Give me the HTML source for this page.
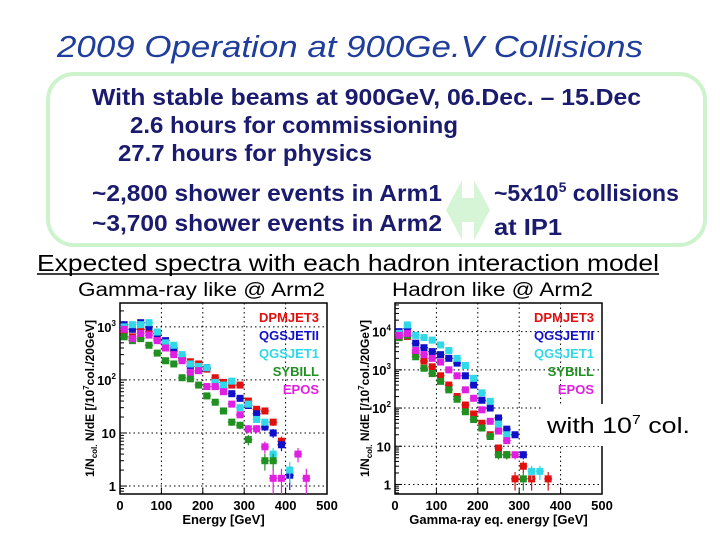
<!DOCTYPE html>
<html><head><meta charset="utf-8"><style>
html,body{margin:0;padding:0;background:#fff;}
svg{display:block;}
.h{font-family:"Liberation Sans",sans-serif;font-weight:bold;fill:#1a1a6e;}
.ax{font-family:"Liberation Sans",sans-serif;font-weight:bold;fill:#000;}
</style></head><body>
<svg id="s" width="720" height="540" viewBox="0 0 720 540" xmlns="http://www.w3.org/2000/svg">
<text x="57" y="57" textLength="586" lengthAdjust="spacingAndGlyphs" font-family="Liberation Sans,sans-serif" font-style="italic" font-size="31" fill="#1f3d9a">2009 Operation at 900Ge.V Collisions</text>
<rect x="48" y="74" width="657" height="171" rx="26" fill="none" stroke="#cdf3cd" stroke-width="4"/>
<text class="h" x="92" y="105" font-size="23" textLength="549" lengthAdjust="spacingAndGlyphs">With stable beams at 900GeV, 06.Dec. – 15.Dec</text>
<text class="h" x="130" y="133" font-size="23" textLength="328" lengthAdjust="spacingAndGlyphs">2.6 hours for commissioning</text>
<text class="h" x="118" y="161" font-size="23" textLength="254" lengthAdjust="spacingAndGlyphs">27.7 hours for physics</text>
<text class="h" x="92" y="201" font-size="23" textLength="350" lengthAdjust="spacingAndGlyphs">~2,800 shower events in Arm1</text>
<text class="h" x="92" y="231" font-size="23" textLength="350" lengthAdjust="spacingAndGlyphs">~3,700 shower events in Arm2</text>
<polygon points="446,210 462,180 462,198 474,198 474,180 490,210 474,240 474,222 462,222 462,240" fill="#d6f5d6"/>
<text class="h" x="494" y="201" font-size="23">~5x10<tspan font-size="14" dy="-9">5</tspan><tspan dy="9"> collisions</tspan></text>
<text class="h" x="494" y="235" font-size="23" textLength="68" lengthAdjust="spacingAndGlyphs">at IP1</text>
<text x="37" y="271" font-family="Liberation Sans,sans-serif" font-size="23" fill="#000" textLength="622" lengthAdjust="spacingAndGlyphs">Expected spectra with each hadron interaction model</text>
<line x1="37" y1="274" x2="659" y2="274" stroke="#000" stroke-width="1.5"/>
<text x="78" y="296" font-family="Liberation Sans,sans-serif" font-size="19" fill="#000" textLength="247" lengthAdjust="spacingAndGlyphs">Gamma-ray like @ Arm2</text>
<text x="392" y="296" font-family="Liberation Sans,sans-serif" font-size="19" fill="#000" textLength="201" lengthAdjust="spacingAndGlyphs">Hadron like @ Arm2</text>
<g id="c1"></g>
<g id="c2"></g>
<rect x="541" y="404" width="160" height="42" fill="#fff"/>
<text x="547" y="433" font-family="Liberation Sans,sans-serif" font-size="22" fill="#000" textLength="143" lengthAdjust="spacingAndGlyphs">with 10<tspan font-size="13" dy="-9">7</tspan><tspan dy="9"> col.</tspan></text>
</svg>
<script>
const names = ["DPMJET3","QGSJETII","QGSJET1","SYBILL","EPOS"];
const colors = ["#e01010","#1010c8","#30d8e8","#209020","#e020e0"];
const xTicks = [0,100,200,300,400,500];
const xCenters = [10,30,50,70,90,110,130,150,170,190,210,230,250,270,290,310,330,350,370,390,410,430,450];
// gamma-like (left); null = no point
const gDPM  = [800,650,900,800,600,450,350,250,220,200,160,110,90,80,80,40,28,26,16,7,null,null,null];
const gQII  = [1100,900,1200,1000,750,550,400,260,180,150,170,75,70,55,45,33,23,13,10,6,1.6,null,null];
const gQ1   = [1000,1100,1100,1200,800,500,450,300,200,180,170,90,80,95,30,35,18,16,4,null,2,null,null];
const gSYB  = [650,550,600,450,320,230,200,110,105,80,50,38,26,16,14,7.5,null,3,3,null,null,null,null];
const gEPOS = [900,600,750,700,550,400,300,230,140,150,75,75,60,35,22,12,12,5.5,1.4,1.4,null,4,1.4];
// hadron-like (right)
const hDPM  = [7000,7500,2800,1700,1200,700,400,200,120,70,40,20,9,6,1.4,3,1.4,null,1.4];
const hQII  = [10000,12000,5000,3800,3000,2500,2000,1500,700,400,160,100,55,28,20,6,null,null,null];
const hQ1   = [9000,15000,8000,7000,6000,4500,3200,2000,1300,600,250,150,38,20,null,null,2.2,2.2,null];
const hSYB  = [7000,8000,2200,1100,800,500,300,170,80,50,30,18,6,6,null,1.4,null,null,null];
const hEPOS = [8000,9000,3200,2500,2000,1600,1000,700,300,180,90,45,25,14,6,null,null,null,null];
const gTicks = [1,10,100,1000];
const hTicks = [1,10,100,1000,10000];

const NS="http://www.w3.org/2000/svg";
function mk(parent,tag,attrs){const e=document.createElementNS(NS,tag);for(const k in attrs)e.setAttribute(k,attrs[k]);parent.appendChild(e);return e;}

function chart(gid,L,R,T,B,yMinLog,yMaxLog,yTicks,series,xlabel){
  const g=document.getElementById(gid);
  const X=v=>L+(R-L)*v/500;
  const Y=v=>B-(B-T)*(Math.log10(v)-yMinLog)/(yMaxLog-yMinLog);
  xTicks.forEach(t=>{ if(t>0&&t<500){const l=mk(g,'line',{x1:X(t),x2:X(t),y1:T,y2:B,stroke:'#000','stroke-width':1,'stroke-dasharray':'1.5,3'});
    
    }});
  yTicks.forEach(t=>{const l=mk(g,'line',{x1:L,x2:R,y1:Y(t),y2:Y(t),stroke:'#000','stroke-width':1,'stroke-dasharray':'1.5,3'});
    
    });
  const fr=mk(g,'rect',{x:L,y:T,width:R-L,height:B-T,fill:'none',stroke:'#000','stroke-width':1.5});
  
  
  xTicks.forEach(t=>{mk(g,'line',{x1:X(t),x2:X(t),y1:B,y2:B-6,stroke:'#000'});
    const tx=mk(g,'text',{x:X(t),y:B+16,'text-anchor':'middle','font-size':13,class:'ax'});tx.textContent=t;
    
    });
  for(let d=Math.floor(yMinLog);d<Math.ceil(yMaxLog);d++){for(let m=1;m<10;m++){const v=m*Math.pow(10,d);const lv=Math.log10(v);if(lv<yMinLog||lv>yMaxLog)continue;
    mk(g,'line',{x1:L,x2:L+(m===1?7:4),y1:Y(v),y2:Y(v),stroke:'#000'});}}
  yTicks.forEach(t=>{const tx=mk(g,'text',{x:L-4,y:Y(t)+5,'text-anchor':'end','font-size':13,class:'ax'});
    
    
    const e=Math.round(Math.log10(t));
    if(e===0)tx.textContent='1';else if(e===1)tx.textContent='10';else{tx.textContent='10';const s=mk(tx,'tspan',{'font-size':8,dy:-6});s.textContent=e;}});
  const xl=mk(g,'text',{x:(L+R)/2,y:B+30,'text-anchor':'middle','font-size':13,class:'ax'});xl.textContent=xlabel;
  
  
  const yl=mk(g,'text',{transform:`translate(${L-26},${(T+B)/2}) rotate(-90)`,'text-anchor':'middle','font-size':12,class:'ax'});
  
  
  yl.innerHTML='1/N<tspan font-size="8" dy="3">col.</tspan><tspan dy="-3"> N/dE [/10</tspan><tspan font-size="8" dy="-5">7</tspan><tspan dy="5">col./20GeV]</tspan>';
  series.forEach((arr,si)=>{
    arr.forEach((v,i)=>{ if(v==null)return; const x=X(xCenters[i]),y=Y(v);
      mk(g,'line',{x1:x-4,x2:x+4,y1:y,y2:y,stroke:colors[si],'stroke-width':1.2});
      const err=Math.min(0.95,0.6/Math.sqrt(v));
      const y1=Math.max(T,Y(v*(1+err))),y2=Math.min(B,Y(v*(1-err)));
      mk(g,'line',{x1:x,x2:x,y1:y1,y2:y2,stroke:colors[si],'stroke-width':1.2});
      const r=mk(g,'rect',{x:x-3.5,y:y-3.5,width:7,height:7,fill:colors[si]});
      
      
    });
  });
  names.forEach((n,i)=>{const t=mk(g,'text',{x:R-8,y:T+19+i*18,'text-anchor':'end','font-size':13,class:'ax',style:'fill:'+colors[i]});
    t.textContent=n;
    
    });
}
chart('c1',120,327,303,494,-0.15,3.45,gTicks,[gDPM,gQII,gQ1,gSYB,gEPOS],'Energy [GeV]');
chart('c2',395,602,303,494,-0.25,4.75,hTicks,[hDPM,hQII,hQ1,hSYB,hEPOS],'Gamma-ray eq. energy [GeV]');
</script>
</body></html>
